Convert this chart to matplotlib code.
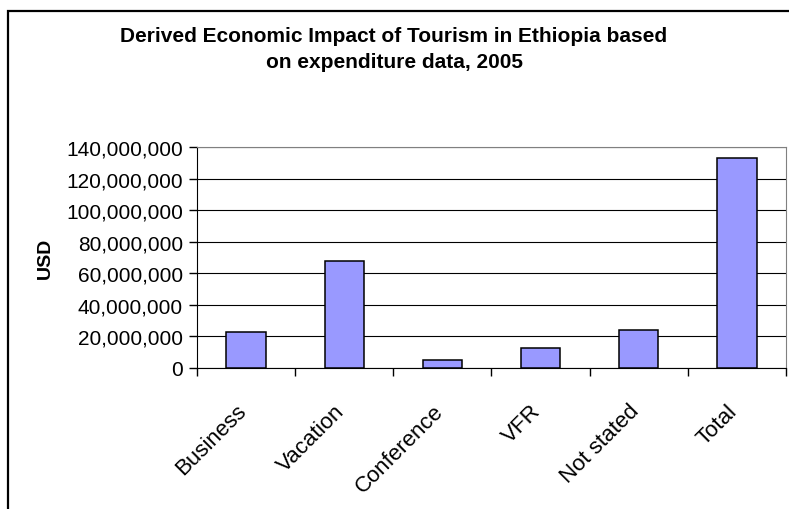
import matplotlib.pyplot as plt
from matplotlib.patches import Rectangle
from matplotlib.ticker import FuncFormatter, FixedLocator
from matplotlib.transforms import ScaledTranslation

# Data
categories = ["Business", "Vacation", "Conference", "VFR", "Not stated", "Total"]
usd = [23100000, 67500000, 5100000, 12900000, 24200000, 133000000]
y_ticks = [0, 20000000, 40000000, 60000000, 80000000, 100000000, 120000000, 140000000]

plt.rcParams['font.family'] = ['Liberation Sans', 'DejaVu Sans']

W, H = 789, 510
fig = plt.figure(figsize=(W / 100, H / 100), dpi=100)

# plot area in pixels (left, top, right, bottom)
l, t, r, b = 197, 148, 786, 369
ax = fig.add_axes([l / W, 1 - b / H, (r - l) / W, (b - t) / H])

x = list(range(len(categories)))
ax.bar(x, usd, width=0.4, color='#9999FF', edgecolor='black', linewidth=1.1, zorder=3)

ax.set_xlim(-0.5, len(categories) - 0.5)
ax.set_ylim(0, 140000000)
ax.yaxis.set_major_locator(FixedLocator(y_ticks))
ax.yaxis.set_major_formatter(FuncFormatter(lambda v, p: f"{int(v):,}"))
ax.grid(axis='y', color='black', linewidth=0.8, zorder=0)

# ticks between categories, labels centred under bars
ax.set_xticks([i - 0.5 for i in range(len(categories) + 1)])
ax.set_xticklabels([])
ax.set_xticks(x, minor=True)
ax.set_xticklabels(categories, minor=True, rotation=45, ha='right',
                   rotation_mode='anchor', fontsize=16)
ax.tick_params(axis='x', which='minor', length=0, pad=23)
ax.tick_params(axis='x', which='major', direction='out', length=6, width=1)
ax.tick_params(axis='y', direction='out', length=6, width=1, labelsize=15, pad=4)

# nudge the rotated labels a little to the left
shift = ScaledTranslation(-10 / 100, 0, fig.dpi_scale_trans)
for lab in ax.get_xticklabels(minor=True):
    lab.set_transform(lab.get_transform() + shift)

for s in ['top', 'right']:
    ax.spines[s].set_color('#808080')
for s in ['left', 'bottom']:
    ax.spines[s].set_color('black')

fig.text(45 / W, 1 - 258 / H, "USD", rotation=90, fontsize=14, fontweight='bold',
         ha='center', va='center')

fig.text(394 / W, 1 - 36 / H, "Derived Economic Impact of Tourism in Ethiopia based",
         fontsize=15, fontweight='bold', ha='center', va='center')
fig.text(394 / W, 1 - 62 / H, "on expenditure data, 2005",
         fontsize=15, fontweight='bold', ha='center', va='center')

# outer chart border (runs off the right and bottom edges)
fig.patches.append(Rectangle((8 / W, -0.1), 1.1, 1 - 12 / H + 0.1,
                             transform=fig.transFigure, fill=False,
                             edgecolor='black', linewidth=1.6))

fig.savefig("out.png", dpi=100)
